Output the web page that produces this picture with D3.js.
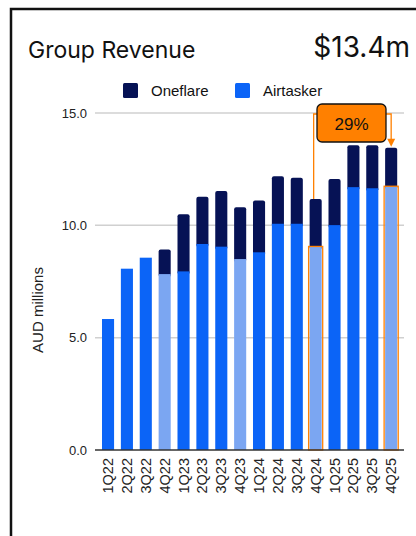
<!DOCTYPE html>
<html><head><meta charset="utf-8">
<script src="https://cdn.jsdelivr.net/npm/d3@7"></script>
<style>body{margin:0;background:#fff}svg{display:block}</style>
</head><body>
<svg id="c" width="416" height="536"></svg>
<script>
const quarters = ["1Q22","2Q22","3Q22","4Q22","1Q23","2Q23","3Q23","4Q23","1Q24","2Q24","3Q24","4Q24","1Q25","2Q25","3Q25","4Q25"];
const airtasker = [5.83,8.07,8.56,7.83,7.95,9.17,9.05,8.50,8.80,10.07,10.07,9.06,10.01,11.70,11.65,11.74];
const oneflare  = [0,0,0,1.09,2.54,2.10,2.48,2.30,2.30,2.11,2.05,2.11,2.05,1.87,1.92,1.71];
const yTicks = [0,5,10,15];
const highlighted = ["4Q24","4Q25"];
const growthLabel = "29%";
const headline = "$13.4m";

const svg = d3.select("#c");
// frame
svg.append("rect").attr("x",11).attr("y",9).attr("width",430).attr("height",560)
  .attr("fill","none").attr("stroke","#111").attr("stroke-width",2.5);

svg.append("text").attr("x",28).attr("y",58).attr("font-family","Inter, 'Noto Sans', sans-serif")
  .attr("font-size",23).attr("fill","#111").text("Group Revenue");
svg.append("text").attr("x",410).attr("y",57).attr("text-anchor","end").attr("font-family","Inter, 'Noto Sans', sans-serif")
  .attr("font-size",28).attr("fill","#111").text(headline);

const x = d3.scaleBand().domain(quarters).range([98.6,400.6]).paddingInner(0.36).paddingOuter(0.18);
const y = d3.scaleLinear().domain([0,15]).range([450,113]);

const cAir = "#0b64f7", cAirQ4 = "#7ba6f2", cOne = "#061255", orange = "#ff8000";

// legend
const leg = [{n:"Oneflare",c:cOne,x:123},{n:"Airtasker",c:cAir,x:235}];
leg.forEach(l=>{
  svg.append("rect").attr("x",l.x).attr("y",83).attr("width",15).attr("height",15).attr("rx",1.5).attr("fill",l.c);
  svg.append("text").attr("x",l.x+28).attr("y",96).attr("font-family","'Liberation Sans', Arial, sans-serif")
    .attr("font-size",15).attr("fill","#111").text(l.n);
});

// grid
const g = svg.append("g");
g.selectAll("line.grid").data(yTicks.filter(d=>d>0)).join("line")
  .attr("x1",95).attr("x2",404).attr("y1",d=>y(d)).attr("y2",d=>y(d))
  .attr("stroke","#d0d0d0").attr("stroke-width",1.5);
g.selectAll("text.yt").data(yTicks).join("text")
  .attr("x",87).attr("y",d=>y(d)+4.5).attr("text-anchor","end")
  .attr("font-family","'Liberation Sans', Arial, sans-serif").attr("font-size",13).attr("fill","#222")
  .text(d=>d3.format(".1f")(d));
svg.append("text").attr("transform","translate(43,310) rotate(-90)").attr("text-anchor","middle")
  .attr("font-family","'Liberation Sans', Arial, sans-serif").attr("font-size",15).attr("fill","#222").text("AUD millions");

const data = quarters.map((q,i)=>({q,a:airtasker[i],o:oneflare[i],q4:q.startsWith("4Q")}));
const bw = x.bandwidth();
// oneflare
g.selectAll("rect.one").data(data.filter(d=>d.o>0)).join("rect")
  .attr("x",d=>x(d.q)).attr("width",bw)
  .attr("y",d=>y(d.a+d.o)).attr("height",d=>y(d.a)-y(d.a+d.o)+3)
  .attr("rx",2).attr("fill",cOne);
// airtasker
g.selectAll("rect.air").data(data).join("rect")
  .attr("x",d=>x(d.q)).attr("width",bw)
  .attr("y",d=>y(d.a)).attr("height",d=>y(0)-y(d.a))
  .attr("fill",d=>d.q4?cAirQ4:cAir);
// highlight outlines
g.selectAll("rect.hl").data(data.filter(d=>highlighted.includes(d.q))).join("rect")
  .attr("x",d=>x(d.q)-1).attr("width",bw+2)
  .attr("y",d=>y(d.a)).attr("height",d=>y(0)-y(d.a))
  .attr("fill","none").attr("stroke",orange).attr("stroke-width",1.3);

// baseline
svg.append("line").attr("x1",95).attr("x2",404).attr("y1",y(0)).attr("y2",y(0)).attr("stroke","#333").attr("stroke-width",1.3);

// x labels
g.selectAll("text.xl").data(quarters).join("text")
  .attr("transform",d=>`translate(${x(d)+bw/2+5},458) rotate(-90)`)
  .attr("text-anchor","end").attr("font-family","'Liberation Sans', Arial, sans-serif")
  .attr("font-size",14.5).attr("fill","#222").text(d=>d);

// annotation
const d0 = data.find(d=>d.q===highlighted[0]), d1 = data.find(d=>d.q===highlighted[1]);
const lx = x(d0.q)+bw/2-2, rx = x(d1.q)+bw/2, ly = 114;
svg.append("path").attr("d",`M${lx},${y(d0.a+d0.o)}V${ly}H${rx}V${y(d1.a+d1.o)-7}`)
  .attr("fill","none").attr("stroke",orange).attr("stroke-width",1.3);
svg.append("path").attr("d",`M${rx-4},${y(d1.a+d1.o)-9}L${rx+4},${y(d1.a+d1.o)-9}L${rx},${y(d1.a+d1.o)-1}Z`).attr("fill",orange);
svg.append("rect").attr("x",317).attr("y",104).attr("width",69).attr("height",38).attr("rx",5)
  .attr("fill",orange).attr("stroke","#111").attr("stroke-width",1.3);
svg.append("text").attr("x",351.5).attr("y",130).attr("text-anchor","middle")
  .attr("font-family","'Liberation Sans', Arial, sans-serif").attr("font-size",17).attr("fill","#111").text(growthLabel);
</script>
</body></html>
